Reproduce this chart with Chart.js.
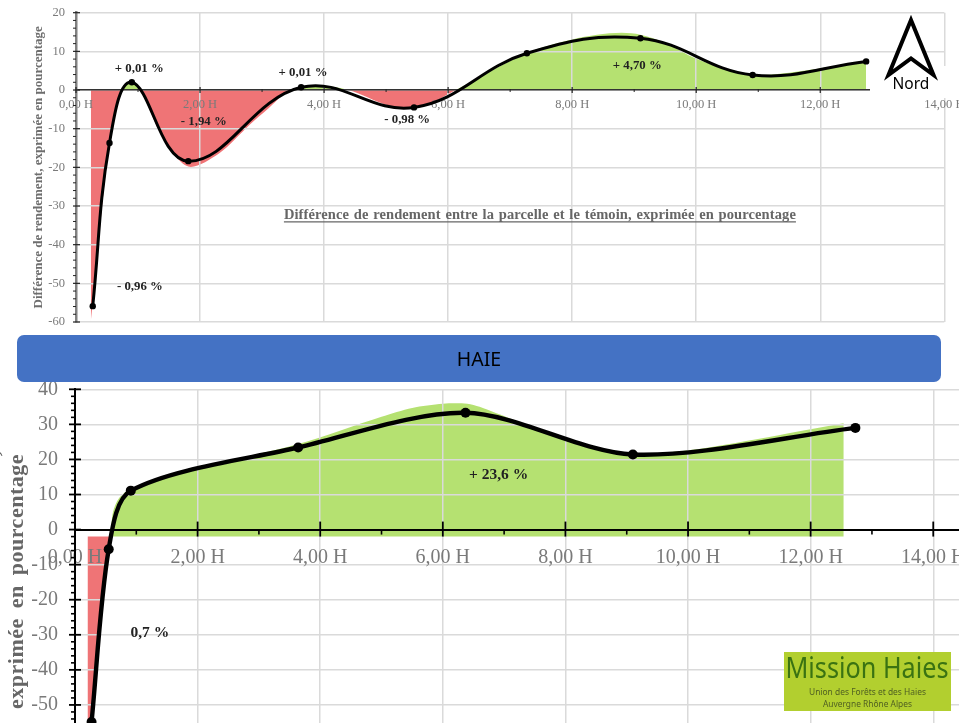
<!DOCTYPE html>
<html lang="fr">
<head>
<meta charset="utf-8">
<title>Différence de rendement</title>
<script src="https://cdn.jsdelivr.net/npm/chart.js@4"></script>
<style>
html,body{margin:0;padding:0;background:#fff;width:966px;height:723px;overflow:hidden}
#stage{position:absolute;left:0;top:0;width:959px;height:723px;overflow:hidden}
.wrap{position:absolute;left:0}
.wrap canvas{display:block;filter:blur(.45px)}
#overlay{position:absolute;left:0;top:0;width:966px;height:723px;pointer-events:none}
</style>
</head>
<body>
<div id="stage">
  <div class="wrap" style="top:0;width:966px;height:330px"><canvas id="topChart" width="966" height="330" style="width:966px;height:330px"></canvas></div>
  <div class="wrap" style="top:380px;width:966px;height:380px"><canvas id="bottomChart" width="966" height="380" style="width:966px;height:380px"></canvas></div>
</div>
<svg id="overlay" viewBox="0 0 966 723" xmlns="http://www.w3.org/2000/svg">
  <rect x="870" y="66" width="78" height="32" fill="#fff"/>
  <path d="M911 20 L888.5 75 L911 58.5 L933.5 75 Z" fill="#fff" stroke="#000" stroke-width="4" stroke-linejoin="miter" stroke-miterlimit="12"/>
  <text x="911" y="89" text-anchor="middle" font-family="Noto Sans" font-size="15.5" fill="#000">Nord</text>
  <rect x="17" y="335" width="924" height="47" rx="7" ry="7" fill="#4472C4"/>
  <text x="479" y="365.5" text-anchor="middle" font-family="Noto Sans" font-size="19.5" fill="#000">HAIE</text>
  <rect x="784" y="652" width="167" height="59" fill="#B2CF2F"/>
  <text x="785.5" y="678" font-family="Noto Sans" font-size="29" fill="#3A7312" textLength="163" lengthAdjust="spacingAndGlyphs">Mission Haies</text>
  <text x="809" y="695" font-family="Noto Sans" font-size="9.5" fill="#4F5F22" textLength="117" lengthAdjust="spacingAndGlyphs">Union des Forêts et des Haies</text>
  <text x="823" y="707" font-family="Noto Sans" font-size="9.5" fill="#4F5F22" textLength="89" lengthAdjust="spacingAndGlyphs">Auvergne Rhône Alpes</text>
</svg>
<script>
// ---- Upper chart values ----
const topHours  = [0.27, 0.54, 0.90, 1.81, 3.63, 5.45, 7.27, 9.10, 10.91, 12.74];
const topValues = [-55.9, -13.7, 2.0, -18.4, 0.7, -4.5, 9.5, 13.4, 3.9, 7.4];
const topAreaHours  = [0.237, 0.27, 0.54, 0.74, 0.90, 1.04, 1.40, 1.81, 2.30, 2.80, 3.10, 3.45, 3.90, 4.40, 5.00, 5.45, 5.80, 6.12, 7.27, 8.00, 8.40, 8.80, 9.10, 9.50, 10.00, 10.91, 12.74];
const topAreaValues = [-60, -55, -13.5, 0, 2.3, 0, -12.3, -19.8, -16.5, -9, -4.8, 0, 1.2, 0, -3.8, -4.8, -2.8, 0, 9.6, 13.1, 14.3, 14.8, 14.3, 12.2, 8.1, 3.9, 7.4];
const topNoteTexts = ["+ 0,01 %", "+ 0,01 %", "- 1,94 %", "- 0,98 %", "- 0,96 %", "+ 4,70 %"];
const topNoteHours = [1.02, 3.66, 2.06, 5.34, 1.03, 9.05];
const topNoteY     = [5.4, 4.5, -8.3, -7.8, -50.9, 6.2];
const topCaption = "Différence de rendement entre la parcelle et le témoin, exprimée en pourcentage";
const topYTitle  = "Différence de rendement, exprimée en pourcentage";

// ---- Lower chart values ----
const bottomHours  = [0.27, 0.55, 0.91, 3.64, 6.37, 9.10, 12.73];
const bottomValues = [-54.9, -5.6, 11.1, 23.4, 33.3, 21.4, 29.0];
const greenAreaHours  = [0.58, 0.62, 0.72, 0.91, 2.0, 3.64, 5.0, 5.5, 6.0, 6.4, 6.6, 7.15, 8.0, 9.10, 10.0, 11.5, 12.54];
const greenAreaValues = [-2, 5, 9, 11.6, 17.4, 24.4, 32.2, 34.7, 35.9, 35.9, 35, 31.3, 25.6, 21.7, 22.6, 27, 30.3];
const redAreaHours  = [0.204, 0.27, 0.55, 0.58];
const redAreaValues = [-62, -55, -5.6, -2];
const bottomNoteTexts = ["+ 23,6 %", "0,7 %"];
const bottomNoteHours = [6.91, 1.22];
const bottomNoteY     = [15.7, -29.6];
const bottomYTitleLines = ["Différence de rendement,", "exprimée en pourcentage"];

const xLabelSuffix = " H";
const SERIF = "'Liberation Serif'";
const GREEN = "#B5E171", RED = "#EF7476", GRID = "#DADADA", TICKTEXT = "#7A7A7A";

const toPoints = (xs, ys) => xs.map((x, i) => ({x, y: ys[i]}));
const hourLabel = v => v.toFixed(2).replace(".", ",") + xLabelSuffix;

// Draws minor/major ticks and free text through the chart's own scales.
const decorate = {
  id: "decorate",
  afterDatasetsDraw(chart, _a, o) {
    const {ctx, scales: {x, y}} = chart;
    ctx.save();
    const x0 = x.getPixelForValue(0), y0 = y.getPixelForValue(0);
    ctx.strokeStyle = o.tickColor;
    for (let v = y.min; v <= y.max; v += 2) {
      const p = y.getPixelForValue(v), major = v % 10 === 0;
      ctx.lineWidth = major ? o.yMajor[2] : o.yMinor[2];
      const t = major ? o.yMajor : o.yMinor;
      ctx.beginPath(); ctx.moveTo(x0 + t[0], p); ctx.lineTo(x0 + t[1], p); ctx.stroke();
    }
    for (let v = 0; v <= 14; v += 1) {
      const p = x.getPixelForValue(v), major = v % 2 === 0;
      const t = major ? o.xMajor : o.xMinor;
      ctx.lineWidth = t[2];
      ctx.beginPath(); ctx.moveTo(p, y0 + t[0]); ctx.lineTo(p, y0 + t[1]); ctx.stroke();
    }
    (o.notes || []).forEach(n => {
      ctx.save();
      ctx.font = n.font; ctx.fillStyle = n.color;
      ctx.textAlign = n.align || "center";
      ctx.textBaseline = n.baseline || "middle";
      if (n.wordSpacing) ctx.wordSpacing = n.wordSpacing;
      if (n.letterSpacing) ctx.letterSpacing = n.letterSpacing;
      const px = x.getPixelForValue(n.x), py = y.getPixelForValue(n.y);
      ctx.translate(px, py);
      if (n.rotate) ctx.rotate(n.rotate);
      ctx.fillText(n.text, 0, 0);
      if (n.underline) {
        const w = ctx.measureText(n.text).width;
        ctx.strokeStyle = n.color; ctx.lineWidth = 1.2;
        ctx.beginPath(); ctx.moveTo(-w / 2, 7); ctx.lineTo(w / 2, 7); ctx.stroke();
      }
      ctx.restore();
    });
    ctx.restore();
  }
};

const noPad = s => { s.paddingLeft = s.paddingRight = s.paddingTop = s.paddingBottom = 0; };

function commonOptions(cfg) {
  return {
    responsive: false, animation: false, events: [],
    layout: {padding: cfg.padding},
    plugins: {legend: {display: false}, tooltip: {enabled: false}, title: {display: false},
      filler: {drawTime: "beforeDraw"}, decorate: cfg.decorate},
    scales: {
      x: {type: "linear", position: {y: 0}, min: 0, max: cfg.xMax,
        afterFit: noPad,
        border: {color: cfg.xBorder, width: cfg.xBorderW},
        grid: {color: GRID, lineWidth: 1.5, drawTicks: false},
        ticks: {stepSize: 2, includeBounds: false, autoSkip: false, maxRotation: 0, padding: cfg.xPad,
          color: TICKTEXT, font: {family: SERIF, size: cfg.tickSize}, callback: hourLabel}},
      y: {type: "linear", position: "left", min: -60, max: cfg.yMax,
        afterFit: s => { noPad(s); s.width = cfg.left; },
        border: {color: cfg.yBorder, width: cfg.yBorderW},
        grid: {color: GRID, lineWidth: 1.5, drawTicks: false},
        title: cfg.yTitle,
        ticks: {stepSize: 10, autoSkip: false, padding: cfg.yPad,
          color: TICKTEXT, font: {family: SERIF, size: cfg.tickSize}}}
    }
  };
}

const lineDs = (data, w, r, t) => ({type: "line", data, borderColor: "#000", backgroundColor: "#000",
  borderWidth: w, pointRadius: r, pointBorderWidth: 0, tension: t, fill: false, clip: false, order: 0});

Chart.register(decorate);

new Chart(document.getElementById("topChart"), {
  type: "line",
  data: {datasets: [
    lineDs(toPoints(topHours, topValues), 3, 3.2, 0.4),
    {data: toPoints(topAreaHours, topAreaValues), borderWidth: 0, pointRadius: 0, tension: 0.3,
     fill: {target: "origin", above: GREEN, below: RED}, order: 1}
  ]},
  options: commonOptions({
    padding: {top: 12.7, right: 21.7, bottom: 8, left: 0},
    left: 76, xMax: 14, yMax: 20, tickSize: 12.5, xPad: 7.5, yPad: 11,
    xBorder: "#333", xBorderW: 1.5, yBorder: "#808080", yBorderW: 2.5,
    yTitle: {display: true, text: topYTitle, color: "#6E6E6E", padding: {top: 31, bottom: 0},
      font: {family: SERIF, size: 13, weight: "bold"}},
    decorate: {tickColor: "#222",
      yMajor: [-3, 4, 1.2], yMinor: [-3, 0, 1], xMajor: [-3, 3, 1.2], xMinor: [-1, 2, 1],
      notes: topNoteTexts.map((text, i) => ({text, x: topNoteHours[i], y: topNoteY[i],
               font: "bold 12.8px " + SERIF, color: "#222"}))
        .concat([{text: topCaption, x: 7.48, y: -32.3, font: "bold 14.5px " + SERIF, color: "#666",
                  underline: true, letterSpacing: "0.1px", wordSpacing: "1px"}])}
  })
});

new Chart(document.getElementById("bottomChart"), {
  type: "line",
  data: {datasets: [
    lineDs(toPoints(bottomHours, bottomValues), 4.4, 5, 0.3),
    {data: toPoints(greenAreaHours, greenAreaValues), borderWidth: 0, pointRadius: 0, tension: 0.3,
     backgroundColor: GREEN, fill: {value: -2}, order: 1},
    {data: toPoints(redAreaHours, redAreaValues), borderWidth: 0, pointRadius: 0, tension: 0,
     backgroundColor: RED, fill: {value: -2}, order: 2}
  ]},
  options: commonOptions({
    padding: {top: 9.3, right: 7, bottom: 20, left: 0},
    left: 75, xMax: 14.42, yMax: 40, tickSize: 20, xPad: 15.7, yPad: 17,
    xBorder: "#000", xBorderW: 2, yBorder: "#000", yBorderW: 2,
    yTitle: {display: false},
    decorate: {tickColor: "#000",
      yMajor: [-6, 6, 1.8], yMinor: [-4, 0, 1.6], xMajor: [-8, 7, 1.8], xMinor: [0, 5, 1.6],
      notes: bottomNoteTexts.map((text, i) => ({text, x: bottomNoteHours[i], y: bottomNoteY[i],
               font: "bold 15.5px " + SERIF, color: "#222"}))
        .concat([
          {text: bottomYTitleLines[1], x: -0.945, y: -14.8, rotate: -Math.PI / 2,
           font: "bold 22px " + SERIF, color: "#666", letterSpacing: "0.5px", wordSpacing: "4px"},
          {text: bottomYTitleLines[0], x: -1.24, y: 22.5, rotate: -Math.PI / 2, align: "right", baseline: "alphabetic",
           font: "bold 22px " + SERIF, color: "#666"}])}
  })
});
</script>
</body>
</html>
